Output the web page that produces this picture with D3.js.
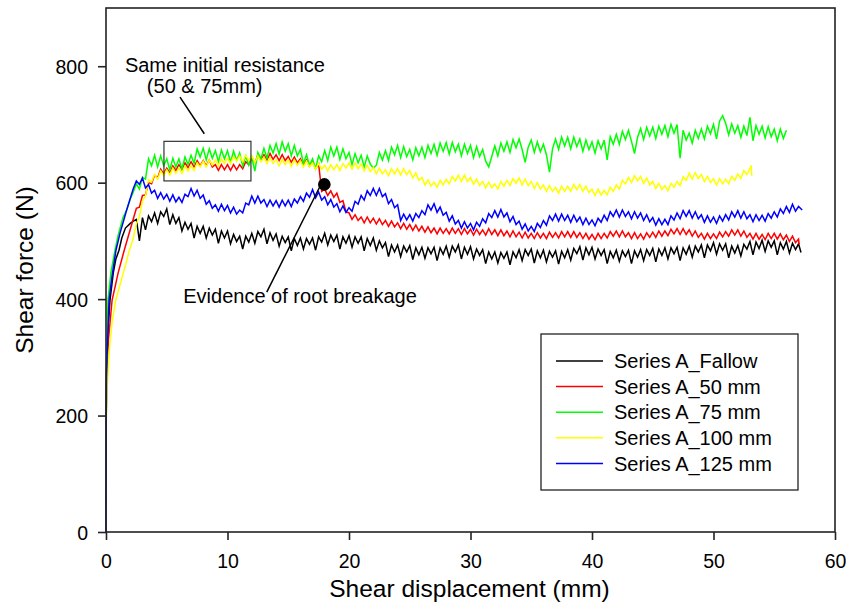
<!DOCTYPE html>
<html><head><meta charset="utf-8">
<script src="https://cdn.jsdelivr.net/npm/d3@7"></script>
<style>
body{margin:0;background:#fff}
svg{display:block}
text{font-family:Arial,"Liberation Sans",sans-serif;fill:#000}
</style>
</head><body>
<svg id="chart" width="846" height="607"></svg>
<script>
// ---------- data ----------
const xTicks = [0, 10, 20, 30, 40, 50, 60];
const yTicks = [0, 200, 400, 600, 800];
const seriesNames = ["Series A_Fallow", "Series A_50 mm", "Series A_75 mm", "Series A_100 mm", "Series A_125 mm"];
const seriesColors = ["#000000", "#ff0000", "#00ff00", "#ffff00", "#0000ff"];

// displacement grid (mm) used by the *Force arrays below
const GRID_START = 2.5, GRID_STEP = 0.25;

// initial loading branch [displacement mm, force N]
const fallowRise = [[0,0],[0.02,200],[0.05,278],[0.15,340],[0.33,398],[0.6,445],[0.8,468],[1.07,484],[1.3,505],[1.6,522],[2,530],[2.25,534]];
const mm50Rise   = [[0,0],[0.02,200],[0.06,270],[0.2,330],[0.5,398],[1,445],[1.5,484],[2,520],[2.25,538]];
const mm75Rise   = [[0,0],[0.02,200],[0.05,280],[0.16,398],[0.4,445],[0.74,484],[1,510],[1.4,540],[1.7,553],[2,572],[2.25,584]];
const mm100Rise  = [[0,0],[0.03,190],[0.1,250],[0.3,320],[0.5,360],[0.8,398],[1.2,428],[1.6,458],[1.9,482],[2.25,505]];
const mm125Rise  = [[0,0],[0.02,200],[0.05,280],[0.25,398],[0.5,440],[0.82,484],[1.15,513],[1.7,553],[2.25,590]];

// force (N) read every 0.25 mm from 2.5 mm
const fallowForce = [
  537,500,540,519,543,533,548,530, 550,542,555,528,545,530,540,517,
  532,520,530,505,525,513,525,505, 522,510,520,496,517,505,517,495,
  511,499,508,486,508,498,513,496, 516,507,520,495,514,501,512,491,
  508,497,507,483,504,492,505,486, 504,494,505,484,507,498,513,493,
  510,499,510,486,507,496,509,489, 507,496,507,483,504,492,505,484,
  500,488,497,473,493,481,493,473, 491,481,492,468,488,476,489,470,
  488,478,489,466,488,477,491,472, 491,481,493,469,489,477,490,469,
  486,475,485,461,481,469,481,462, 480,470,481,459,481,471,485,466,
  485,475,486,462,483,471,484,464, 482,472,483,460,482,471,485,467,
  487,478,490,467,488,476,489,469, 486,475,485,461,482,471,484,465,
  483,473,484,461,483,472,485,466, 485,475,487,464,486,475,488,469,
  488,478,489,466,488,477,491,472, 491,481,493,471,493,483,497,477,
  495,484,495,471,491,479,492,474, 494,486,499,476,498,487,501,482,
  500,489,500,476,497,486,499,479, 496,485,495];
const mm50Force = [
  556,558,578,579,600,598,613,608, 623,615,625,617,629,621,631,623,
  634,626,636,627,638,629,638,629, 639,627,631,621,631,622,631,621,
  631,622,631,624,636,631,643,635, 647,639,648,639,650,640,648,638,
  648,638,645,635,644,634,641,630, 639,628,635,624,632,585,589,578,
  586,575,582,566,569,550,548,537, 545,535,541,531,541,531,539,529,
  538,528,535,525,534,524,531,521, 530,520,528,518,527,517,525,515,
  524,514,522,512,522,513,521,512, 522,513,521,511,521,512,520,510,
  520,511,519,510,521,511,519,509, 519,509,517,507,517,507,515,505,
  515,505,513,504,514,505,513,504, 515,506,514,505,516,507,516,506,
  516,506,514,504,513,503,511,502, 513,504,513,505,516,508,517,507,
  517,507,514,504,514,504,512,503, 514,506,515,506,517,508,517,509,
  520,512,521,511,521,511,519,508, 517,506,513,503,513,504,512,504,
  515,507,516,508,519,510,519,508, 517,506,513,503,513,503,511,502,
  513,504,513,503,512,502,510,499, 508,497,503];
const mm75Force = [
  598,589,609,606,641,629,647,627, 646,629,641,622,642,627,641,623,
  644,631,647,633,658,644,659,639, 658,642,655,636,656,641,655,635,
  654,638,651,629,646,630,643,620, 652,641,659,642,664,651,667,649,
  670,654,667,646,664,646,657,633, 648,630,641,624,646,636,655,638,
  661,646,661,640,658,641,652,631, 650,634,647,627,646,632,625,630,
  652,639,655,638,661,648,664,643, 662,645,657,639,660,646,661,643,
  664,650,666,647,668,654,669,649, 669,653,666,646,666,650,664,643,
  662,645,657,637,627,645,663,646, 668,654,670,652,674,660,675,657,
  635,661,673,652,670,653,666,648, 618,658,675,657,678,663,678,658,
  678,662,675,654,673,657,670,651, 672,658,673,639,679,666,683,666,
  688,674,690,671,650,678,693,674, 695,680,695,676,697,683,698,679,
  700,685,700,642,690,673,685,668, 690,676,692,675,697,684,700,675,
  706,715,702,682,701,685,698,678, 697,681,712,672,698,683,697,677,
  696,679,692,672,692,676,690];
const mm100Force = [
  530,541,569,577,605,601,614,606, 620,612,622,613,625,616,625,616,
  628,620,629,621,634,627,637,627, 639,630,639,629,641,633,642,633,
  645,637,646,636,647,638,646,635, 646,636,644,633,643,633,640,629,
  640,631,639,628,639,630,638,627, 637,627,634,623,633,623,630,620,
  631,622,631,621,633,625,634,623, 634,624,632,620,630,619,626,615,
  625,615,622,612,624,615,624,613, 624,614,621,608,617,604,609,596,
  605,594,601,592,604,596,606,598, 611,603,613,602,613,602,609,597,
  606,595,602,591,601,591,598,589, 602,594,604,595,607,599,608,596,
  606,595,602,590,600,589,596,585, 595,585,592,582,594,585,594,585,
  597,588,597,585,594,583,589,578, 589,579,587,579,592,585,596,589,
  604,598,609,600,612,603,611,599, 608,596,602,590,599,588,595,586,
  599,592,602,595,610,604,616,606, 617,607,614,602,611,600,607,596,
  607,598,606,598,611,604,615,607, 621,614,624];
const mm125Force = [
  603,597,608,591,597,582,587,573, 583,572,580,568,579,567,575,566,
  580,576,590,577,587,573,579,563, 569,556,562,551,563,552,561,548,
  558,546,553,548,565,562,577,565, 577,565,571,559,570,560,569,558,
  570,560,570,559,572,565,576,568, 582,575,588,574,584,570,576,562,
  571,558,564,550,560,549,557,551, 568,563,578,570,586,578,590,578,
  590,576,581,564,571,557,562,535, 546,536,545,534,547,540,552,545,
  562,553,564,549,558,544,549,534, 543,529,535,522,533,522,530,519,
  532,525,538,531,547,540,552,541, 554,541,548,533,542,528,534,520,
  529,517,525,516,530,523,535,527, 543,535,546,534,546,535,544,532,
  544,533,541,528,539,528,536,526, 539,532,544,535,550,542,553,541,
  553,542,550,538,550,539,548,535, 545,533,540,527,538,528,537,528,
  543,536,548,538,552,542,552,539, 550,538,545,532,543,532,541,530,
  543,534,545,536,550,541,552,539, 550,538,545,533,545,535,544,534,
  547,539,550,541,555,547,559,549, 563,551,559];

// end of each record [displacement mm, force N]
const fallowTail = [[57.2,480]];
const mm50Tail   = [[57.05,494]];
const mm75Tail   = [];
const mm100Tail  = [[53.1,630],[53.15,612]];
const mm125Tail  = [[57.3,553]];

// annotations (data units)
const annoBox = [4.77, 603, 11.93, 671];
const annoTexts = ["Same initial resistance", "(50 & 75mm)", "Evidence of root breakage"];
const annoTextPos = [[9.79, 790], [8.12, 754], [15.97, 393]];
const annoLeaders = [[[6.09, 747], [8.09, 684]], [[17.6, 593], [13.23, 412]]];
const breakPoint = [17.97, 597];

// ---------- chart ----------
const plot = {left: 106, top: 8, right: 835, bottom: 532};
const x = d3.scaleLinear().domain([0, 60]).range([plot.left, plot.right]);
const y = d3.scaleLinear().domain([0, 900]).range([plot.bottom, plot.top]);
const svg = d3.select("#chart");

const rises = [fallowRise, mm50Rise, mm75Rise, mm100Rise, mm125Rise];
const forces = [fallowForce, mm50Force, mm75Force, mm100Force, mm125Force];
const tails = [fallowTail, mm50Tail, mm75Tail, mm100Tail, mm125Tail];
const series = seriesNames.map((name, k) => {
  const pts = rises[k].slice();
  forces[k].forEach((v, i) => pts.push([GRID_START + i * GRID_STEP, v]));
  return {name, color: seriesColors[k], points: pts.concat(tails[k])};
});

const line = d3.line().x(d => x(d[0])).y(d => y(d[1]));
svg.append("g").selectAll("path").data(series).join("path")
  .attr("d", d => line(d.points))
  .attr("fill", "none")
  .attr("stroke", d => d.color)
  .attr("stroke-width", 1.5);

// frame
svg.append("rect").attr("x", plot.left).attr("y", plot.top)
  .attr("width", plot.right - plot.left).attr("height", plot.bottom - plot.top)
  .attr("fill", "none").attr("stroke", "#222").attr("stroke-width", 1.6);

// axes
const gx = svg.append("g").attr("transform", `translate(0,${plot.bottom})`)
  .call(d3.axisBottom(x).tickValues(xTicks).tickSize(8).tickPadding(8).tickFormat(d3.format("d")));
const gy = svg.append("g").attr("transform", `translate(${plot.left},0)`)
  .call(d3.axisLeft(y).tickValues(yTicks).tickSize(8).tickPadding(10).tickFormat(d3.format("d")));
[gx, gy].forEach(g => {
  g.select(".domain").remove();
  g.selectAll(".tick line").attr("stroke", "#222").attr("stroke-width", 1.6);
  g.selectAll(".tick text").style("font-size", "19.5px").attr("font-family", "Arial, 'Liberation Sans', sans-serif");
});
gx.selectAll(".tick text").attr("dy", null).attr("y", 36);
gy.selectAll(".tick text").attr("dy", "0.36em");

// axis titles
svg.append("text").attr("x", (plot.left + plot.right) / 2 - 1).attr("y", 597)
  .attr("text-anchor", "middle").style("font-size", "24.5px").text("Shear displacement (mm)");
svg.append("text").attr("transform", `translate(33,${(plot.top + plot.bottom) / 2}) rotate(-90)`)
  .attr("text-anchor", "middle").style("font-size", "24.5px").text("Shear force (N)");

// legend
const lg = svg.append("g");
lg.append("rect").attr("x", 541).attr("y", 334).attr("width", 257).attr("height", 156)
  .attr("fill", "#fff").attr("stroke", "#222").attr("stroke-width", 1.3);
series.forEach((s, i) => {
  const ry = 361 + i * 25.6;
  lg.append("line").attr("x1", 556).attr("x2", 603).attr("y1", ry).attr("y2", ry)
    .attr("stroke", s.color).attr("stroke-width", 1.5);
  lg.append("text").attr("x", 614).attr("y", ry).attr("dy", "0.36em")
    .style("font-size", "20px").text(s.name);
});

// annotations
svg.append("rect").attr("x", x(annoBox[0])).attr("y", y(annoBox[3]))
  .attr("width", x(annoBox[2]) - x(annoBox[0])).attr("height", y(annoBox[1]) - y(annoBox[3]))
  .attr("fill", "none").attr("stroke", "#333").attr("stroke-width", 1.2);
annoLeaders.forEach(l => {
  svg.append("line").attr("x1", x(l[0][0])).attr("y1", y(l[0][1]))
    .attr("x2", x(l[1][0])).attr("y2", y(l[1][1]))
    .attr("stroke", "#000").attr("stroke-width", 1.5);
});
svg.append("circle").attr("cx", x(breakPoint[0])).attr("cy", y(breakPoint[1])).attr("r", 6.3).attr("fill", "#000");
annoTexts.forEach((t, i) => {
  svg.append("text").attr("x", x(annoTextPos[i][0])).attr("y", y(annoTextPos[i][1]))
    .attr("text-anchor", "middle").style("font-size", "20px").text(t);
});
</script>
</body></html>
